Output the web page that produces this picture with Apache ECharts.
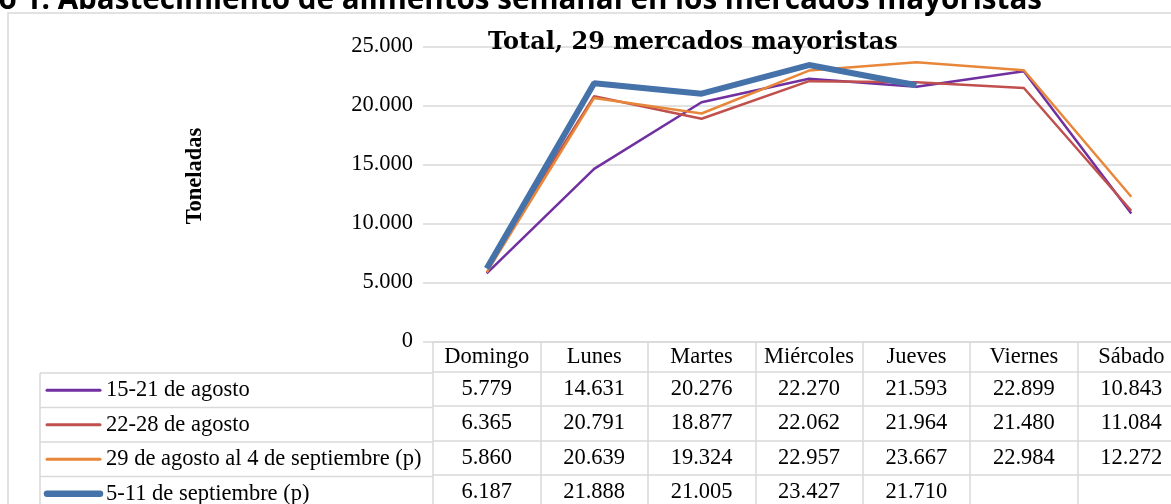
<!DOCTYPE html>
<html>
<head>
<meta charset="utf-8">
<style>
  html, body { margin: 0; padding: 0; background: #fff; overflow: hidden; }
  #chart { width: 1200px; height: 504px; }
</style>
<script src="https://cdn.jsdelivr.net/npm/echarts@6/dist/echarts.min.js"></script>
</head>
<body>
<div id="chart"></div>
<script>
// data
const days = ['Domingo', 'Lunes', 'Martes', 'Miércoles', 'Jueves', 'Viernes', 'Sábado'];
const weekNames = ['15-21 de agosto', '22-28 de agosto', '29 de agosto al 4 de septiembre (p)', '5-11 de septiembre (p)'];
const ago15_21 = [5779, 14631, 20276, 22270, 21593, 22899, 10843];
const ago22_28 = [6365, 20791, 18877, 22062, 21964, 21480, 11084];
const ago29_sep4 = [5860, 20639, 19324, 22957, 23667, 22984, 12272];
const sep5_11 = [6187, 21888, 21005, 23427, 21710, null, null];
const yMin = 0, yMax = 25000, yStep = 5000;

const weeks = [ago15_21, ago22_28, ago29_sep4, sep5_11];
const colors = ['#7030a0', '#c0504d', '#e8873a', '#4672aa'];
const widths = [2.5, 2.5, 2.5, 6];

const serif = '"Liberation Serif", serif';
const gridColor = '#d9d9d9';
const fs = 22.5;

// layout (the chart runs past the right edge of the window, like the reference)
const gridLeft = 433, gridTop = 46.5, gridH = 296.5, gridW = 752;
const headH = 30, rowH = 34.5;
const tableTop = gridTop + gridH;
const legendLeft = 40;

function fmt(n) {
  if (n == null) return '';
  return String(n).replace(/\B(?=(\d{3})+(?!\d))/g, '.');
}

const chart = echarts.init(document.getElementById('chart'));

const baseX = {
  type: 'category',
  data: days,
  position: 'bottom',
  boundaryGap: true,
  axisLine: { show: true, lineStyle: { color: gridColor, width: 1.5 } },
  splitLine: { show: false },
};

const xAxes = [
  Object.assign({}, baseX, {
    offset: 0,
    axisTick: { show: true, interval: 0, length: headH, lineStyle: { color: gridColor, width: 1.5 } },
    axisLabel: { interval: 0, margin: 4, fontFamily: serif, fontSize: fs, color: '#000' },
  }),
];
weeks.forEach((w, i) => {
  xAxes.push(Object.assign({}, baseX, {
    offset: headH + rowH * i,
    axisTick: { show: true, interval: 0, length: rowH, lineStyle: { color: gridColor, width: 1.5 } },
    axisLabel: {
      interval: 0, margin: 6, fontFamily: serif, fontSize: fs, color: '#000',
      formatter: (v, idx) => fmt(w[idx]),
    },
  }));
});

const graphics = [
  { type: 'rect', z: -1, shape: { x: 8, y: 13, width: 1300, height: 600 },
    style: { fill: 'none', stroke: gridColor, lineWidth: 1.5 } },
  { type: 'text', x: 1042, y: 16,
    style: { text: 'Gráfico 1. Abastecimiento de alimentos semanal en los mercados mayoristas',
      font: 'bold 29.6px "Open Sans"', fill: '#000', align: 'right', verticalAlign: 'bottom' } },
  { type: 'text', x: 195, y: 176, rotation: Math.PI / 2,
    style: { text: 'Toneladas', font: 'bold 22.5px ' + serif, fill: '#000', align: 'center', verticalAlign: 'middle' } },
  { type: 'line', shape: { x1: legendLeft, y1: tableTop + headH, x2: legendLeft, y2: 520 },
    style: { stroke: gridColor, lineWidth: 1.5 } },
];
weekNames.forEach((name, i) => {
  const top = tableTop + headH + rowH * i;
  const mid = top + rowH / 2;
  graphics.push({ type: 'line', shape: { x1: legendLeft, y1: top, x2: gridLeft, y2: top },
    style: { stroke: gridColor, lineWidth: 1.5 } });
  graphics.push({ type: 'line', shape: { x1: 47, y1: mid, x2: 100, y2: mid },
    style: { stroke: colors[i], lineWidth: widths[i] + 0.5, lineCap: 'round' } });
  graphics.push({ type: 'text', x: 106, y: mid,
    style: { text: name, font: fs + 'px ' + serif, fill: '#000', align: 'left', verticalAlign: 'middle' } });
});

chart.setOption({
  animation: false,
  backgroundColor: '#fff',
  title: {
    text: 'Total, 29 mercados mayoristas',
    left: 488, top: 31, padding: 0,
    textStyle: { fontFamily: '"DejaVu Serif", serif', fontWeight: 'bold', fontSize: 24, color: '#000' },
  },
  grid: { left: gridLeft, top: gridTop, width: gridW, height: gridH },
  xAxis: xAxes,
  yAxis: {
    type: 'value',
    min: yMin, max: yMax, interval: yStep,
    axisLine: { show: false },
    axisTick: { show: true, length: 10, lineStyle: { color: gridColor, width: 1.5 } },
    splitLine: { lineStyle: { color: gridColor, width: 1.5 } },
    axisLabel: { margin: 20, fontFamily: serif, fontSize: fs, color: '#000', formatter: fmt },
  },
  series: weeks.map((w, i) => ({
    name: weekNames[i],
    type: 'line',
    xAxisIndex: 0,
    data: w,
    symbol: 'none',
    z: 2 + i,
    lineStyle: { color: colors[i], width: widths[i] },
    itemStyle: { color: colors[i] },
  })),
  graphic: graphics,
});
</script>
</body>
</html>
